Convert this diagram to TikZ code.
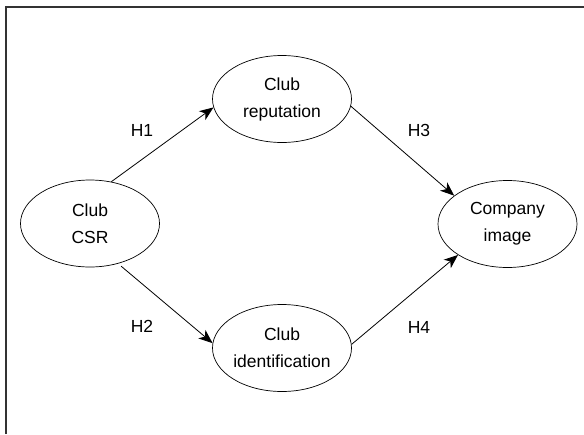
\documentclass[tikz,border=0pt]{standalone}
\usepackage{fontspec}
\setmainfont{Liberation Sans}
\usepackage{tikz}
\usetikzlibrary{arrows.meta,shapes.geometric}

\tikzset{
	construct/.style={ellipse, draw, line width=0.7pt, minimum width=139pt, minimum height=87pt, inner sep=0pt, align=center, font=\fontsize{17.5}{27}\selectfont},
	hyp/.style={line width=0.8pt, -{Stealth[length=14pt,width=11pt,inset=4pt]}},
	hlabel/.style={font=\fontsize{17.5}{20}\selectfont}
}

\begin{document}
\begin{tikzpicture}[x=1pt,y=-1pt]
			\useasboundingbox (0,0) rectangle (584,434);
			\draw[line width=1.8pt, black!80] (6,434) -- (6,7) -- (584,7);
			\node[construct] (csr) at (90,223.5) {Club\\CSR};
			\node[construct] (rep) at (282,99) {Club\\reputation};
			\node[construct] (ident) at (282,348) {Club\\identification};
			\node[construct] (img) at (507.5,224) {Company\\image};
			\draw[hyp] (csr.63) -- (rep.187);
			\draw[hyp, shorten <=4pt] (csr.-55) -- (ident.176);
			\draw[hyp] (rep.-6) -- (img.152);
			\draw[hyp] (ident.3) -- (img.212);
			\node[hlabel] (h1) at (142,130) {H1};
			\node[hlabel] (h2) at (142,326) {H2};
			\node[hlabel] (h3) at (419,130) {H3};
			\node[hlabel] (h4) at (419,327) {H4};
		\end{tikzpicture}
\end{document}
